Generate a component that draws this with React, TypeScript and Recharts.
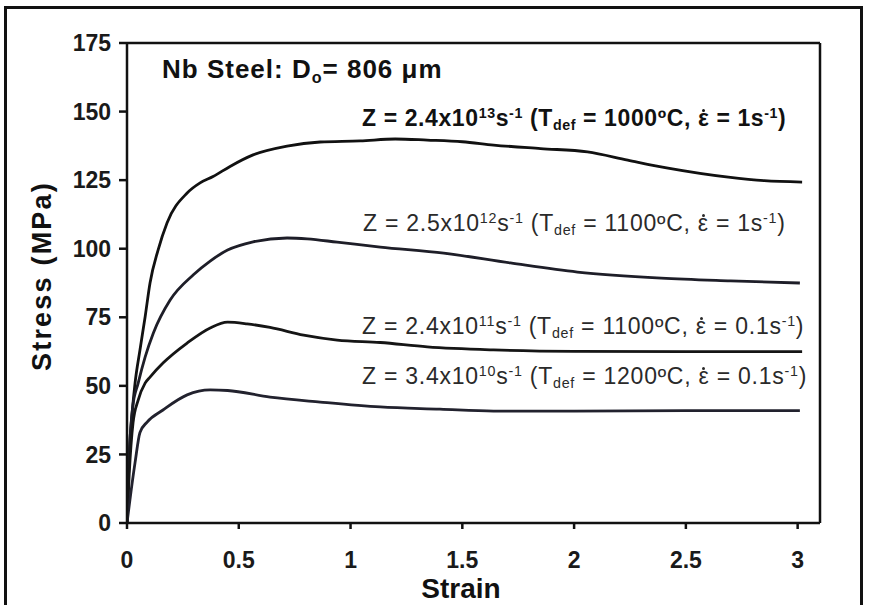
import React from "react";
import { LineChart, Line, XAxis, YAxis, ReferenceLine } from "recharts";

// Z = 2.4x10^13 s^-1 (1000 C, 1 s^-1)
const strainZ13 = [0, 0.01, 0.025, 0.036, 0.058, 0.081, 0.103, 0.139, 0.179, 0.269, 0.327, 0.385, 0.461, 0.564, 0.716, 0.864, 1.043, 1.2, 1.343, 1.5, 1.64, 1.85, 2.06, 2.24, 2.42, 2.69, 2.85, 3.02];
const stressZ13 = [0, 25, 42, 51, 63.1, 75.1, 87.5, 99.5, 109.4, 120.3, 124, 126.3, 130, 134.2, 137.4, 138.9, 139.3, 140, 139.6, 139, 137.8, 136.5, 135.3, 132.3, 129.4, 126.1, 124.8, 124.3];

// Z = 2.5x10^12 s^-1 (1100 C, 1 s^-1)
const strainZ12 = [0, 0.01, 0.025, 0.05, 0.081, 0.118, 0.193, 0.297, 0.372, 0.45, 0.564, 0.716, 0.806, 0.94, 1.133, 1.417, 1.715, 2.015, 2.39, 2.7, 3.01];
const stressZ12 = [0, 25, 42, 51, 60.5, 69.3, 81.3, 90.5, 95.5, 99.5, 102.5, 103.9, 103.6, 102.4, 100.6, 98.4, 94.8, 91.5, 89.3, 88.3, 87.5];

// Z = 2.4x10^11 s^-1 (1100 C, 0.1 s^-1)
const strainZ11 = [0, 0.01, 0.027, 0.05, 0.081, 0.103, 0.161, 0.269, 0.372, 0.45, 0.537, 0.64, 0.79, 0.94, 1.133, 1.343, 1.64, 2.0, 2.5, 3.02];
const stressZ11 = [0, 18, 36.5, 44.8, 51, 53.2, 58.3, 65.6, 71.1, 73.2, 72.6, 71.3, 68.5, 66.7, 65.8, 64.2, 63.1, 62.6, 62.5, 62.5];

// Z = 3.4x10^10 s^-1 (1200 C, 0.1 s^-1)
const strainZ10 = [0, 0.013, 0.036, 0.058, 0.09, 0.161, 0.269, 0.372, 0.45, 0.64, 0.864, 1.133, 1.4, 1.64, 2.0, 2.5, 3.01];
const stressZ10 = [0, 8.4, 22, 33, 36.8, 41.2, 46.7, 48.5, 48.3, 45.9, 44.1, 42.3, 41.5, 40.8, 40.8, 41, 41];

const xTicks = [0, 0.5, 1, 1.5, 2, 2.5, 3];
const yTicks = [0, 25, 50, 75, 100, 125, 150, 175];

const toRows = (xs: number[], ys: number[]) => xs.map((x, i) => ({ strain: x, stress: ys[i] }));

const series = [
  { key: "z13", data: toRows(strainZ13, stressZ13), color: "#111111" },
  { key: "z12", data: toRows(strainZ12, stressZ12), color: "#1e1e28" },
  { key: "z11", data: toRows(strainZ11, stressZ11), color: "#151515" },
  { key: "z10", data: toRows(strainZ10, stressZ10), color: "#22222e" },
];

const font = "'Liberation Sans', Arial, sans-serif";
const tickStyle = { fontFamily: font, fontSize: 23, fontWeight: 700, fill: "#1a1a1a" };
const sup = { fontSize: "0.62em", verticalAlign: "0.55em" } as React.CSSProperties;
const sub = { fontSize: "0.62em", verticalAlign: "-0.3em" } as React.CSSProperties;

// epsilon with a dot above (strain rate); the dot is a tiny disc, not a glyph
function EpsDot() {
  return (
    <span style={{ position: "relative", display: "inline-block" }}>
      {"\u03b5"}
      <span
        style={{
          position: "absolute",
          left: "50%",
          top: "0.08em",
          width: 3,
          height: 3,
          marginLeft: -1.5,
          borderRadius: 2,
          background: "currentColor",
        }}
      />
    </span>
  );
}

function CurveLabel(props: { left: number; top: number; z: string; exp: string; temp: string; rate: string; bold?: boolean }) {
  return (
    <div
      style={{
        position: "absolute",
        left: props.left,
        top: props.top,
        fontFamily: font,
        fontSize: 23,
        letterSpacing: props.bold ? 0.6 : 0.75,
        fontWeight: props.bold ? 700 : 400,
        color: props.bold ? "#111" : "#2a2a2a",
        whiteSpace: "nowrap",
        lineHeight: 1,
      }}
    >
      Z = {props.z}x10<span style={sup}>{props.exp}</span>s<span style={sup}>-1</span> (T
      <span style={sub}>def</span> = {props.temp}ºC, <EpsDot /> = {props.rate}s<span style={sup}>-1</span>)
    </div>
  );
}

export default function App() {
  return (
    <div style={{ position: "absolute", left: 0, top: 0, width: 869, height: 605, background: "#fff", overflow: "hidden" }}>
      <div
        style={{
          position: "absolute",
          left: 4,
          top: 6,
          width: 859,
          height: 610,
          border: "3px solid #111",
          boxSizing: "border-box",
        }}
      />
      <LineChart width={869} height={605} margin={{ top: 43, right: 49, bottom: 52, left: 67 }}>
        <XAxis
          type="number"
          dataKey="strain"
          domain={[0, 3.1]}
          ticks={xTicks}
          allowDataOverflow
          height={30}
          tick={tickStyle}
          tickSize={6}
          tickMargin={23}
          stroke="#111"
          strokeWidth={2.5}
        />
        <YAxis
          type="number"
          dataKey="stress"
          domain={[0, 175]}
          ticks={yTicks}
          width={60}
          tick={tickStyle}
          tickSize={8}
          tickMargin={8}
          stroke="#111"
          strokeWidth={2.5}
        />
        <ReferenceLine y={175} stroke="#111" strokeWidth={2.5} />
        <ReferenceLine x={3.1} stroke="#111" strokeWidth={2.5} />
        {series.map((s) => (
          <Line
            key={s.key}
            data={s.data}
            dataKey="stress"
            type="monotone"
            stroke={s.color}
            strokeWidth={2.8}
            dot={false}
            isAnimationActive={false}
          />
        ))}
      </LineChart>
      <div
        style={{
          position: "absolute",
          left: 42,
          top: 276,
          transform: "translate(-50%, -50%) rotate(-90deg)",
          fontFamily: font,
          fontSize: 27,
          letterSpacing: 2.2,
          fontWeight: 700,
          color: "#111",
          whiteSpace: "nowrap",
          lineHeight: 1,
        }}
      >
        Stress (MPa)
      </div>
      <div
        style={{
          position: "absolute",
          left: 461,
          top: 575,
          transform: "translateX(-50%)",
          fontFamily: font,
          fontSize: 28,
          fontWeight: 700,
          color: "#111",
          lineHeight: 1,
        }}
      >
        Strain
      </div>
      <div
        style={{
          position: "absolute",
          left: 162,
          top: 56,
          fontFamily: font,
          fontSize: 26,
          letterSpacing: 1,
          fontWeight: 700,
          color: "#111",
          whiteSpace: "nowrap",
          lineHeight: 1,
        }}
      >
        Nb Steel: D<span style={sub}>o</span>= 806 {"\u03bc"}m
      </div>
      <CurveLabel left={362} top={106} z="2.4" exp="13" temp="1000" rate="1" bold />
      <CurveLabel left={363} top={211} z="2.5" exp="12" temp="1100" rate="1" />
      <CurveLabel left={362} top={314} z="2.4" exp="11" temp="1100" rate="0.1" />
      <CurveLabel left={362} top={364} z="3.4" exp="10" temp="1200" rate="0.1" />
    </div>
  );
}
